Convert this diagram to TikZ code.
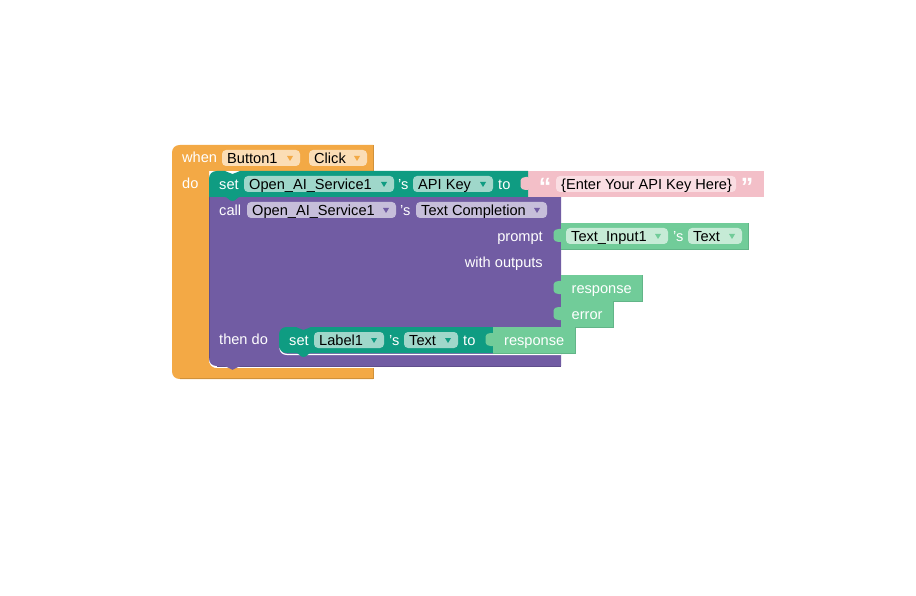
\documentclass[tikz,border=0pt]{standalone}
\usepackage{fontspec}
\setmainfont{Liberation Sans}
\definecolor{ctlorange}{HTML}{F3A945}
\definecolor{ctldark}{HTML}{D0913A}
\definecolor{ctlfield}{HTML}{FBDDB5}
\definecolor{ctlmark}{HTML}{F3A945}
\definecolor{setteal}{HTML}{0F9C82}
\definecolor{setdark}{HTML}{0B7D68}
\definecolor{setfield}{HTML}{9FD7CA}
\definecolor{callpurple}{HTML}{715CA3}
\definecolor{calldark}{HTML}{5F4E8C}
\definecolor{callfield}{HTML}{C6BEDA}
\definecolor{valgreen}{HTML}{71CC99}
\definecolor{valdark}{HTML}{62B588}
\definecolor{valfield}{HTML}{C6EBD6}
\definecolor{strpink}{HTML}{F3BFC8}
\definecolor{strfield}{HTML}{FADEE3}
\tikzset{
  x=1pt,y=-1pt,
  whitelabel/.style={anchor=base west,inner sep=0pt,text=white,font=\fontsize{14.6}{16}\selectfont},
  whiteright/.style={whitelabel,anchor=base east},
  fieldlabel/.style={anchor=base west,inner sep=0pt,text=black,font=\fontsize{14.6}{16}\selectfont},
  fieldbox/.style={rounded corners=4pt},
  quotemark/.style={text=white,inner sep=0pt,font=\fontsize{25}{25}\selectfont\bfseries,anchor=base},
  blockedge/.style={line width=0.7pt},
}
% #1 name, #2 left, #3 right, #4 mid y, #5 text, #6 fill, #7 mark
\newcommand{\dropfield}[7]{
  \fill[fieldbox,#6] (#2,#4-8) rectangle (#3,#4+8);
  \node[fieldlabel] (#1) at (#2+5,#4+5.4) {#5};
  \fill[#7] (#3-13,#4-2) -- (#3-7,#4-2) -- (#3-10,#4+3) -- cycle;
}
% #1 left, #2 top, #3 colour
\newcommand{\lefttab}[3]{
  \fill[#3,rounded corners=1.5pt] (#1+1,#2+6) -- (#1-4,#2+6) -- (#1-7.5,#2+8) -- (#1-7.5,#2+17) -- (#1-4,#2+19) -- (#1+1,#2+19) -- cycle;
}
% #1 left, #2 right, #3 top, #4 colour, #5 edge
\newcommand{\valblock}[5]{
  \lefttab{#1}{#3}{#4}
  \fill[#4] (#1,#3) rectangle (#2,#3+26);
  \draw[blockedge,#5] (#1,#3+26) -- (#2,#3+26) -- (#2,#3);
}
\begin{document}
\begin{tikzpicture}
\useasboundingbox (0,0) rectangle (916,596);
\fill[white] (0,0) rectangle (916,596);

\fill[ctlorange] (172,153) .. controls (172,148) and (175,145) .. (180,145) -- (373,145) -- (373,171) -- (209,171) -- (209,360) .. controls (209,365) and (212,368) .. (217,368) -- (373,368) -- (373,379) -- (180,379) .. controls (175,379) and (172,376) .. (172,371) -- cycle;
\draw[blockedge,ctldark] (373,145) -- (373,171);
\draw[blockedge,ctldark] (180,378.6) -- (373,378.6) -- (373,368);

\draw[white,line width=1.6pt] (209.8,358) .. controls (209.8,364) and (212,367) .. (218,367) -- (373,367);
\fill[callpurple] (209,197) -- (561,197) -- (561,366) -- (217,366) .. controls (212,366) and (209,363) .. (209,358) -- cycle;
\draw[blockedge,calldark] (217,366) -- (561,366);
\draw[blockedge,calldark] (209.4,197) -- (209.4,358);
\fill[callpurple] (225,366) .. controls (228,366) and (229,369.8) .. (232.5,369.8) .. controls (236,369.8) and (237,366) .. (240,366) -- cycle;

\fill[strpink] (528,171) rectangle (764,197);
\fill[setteal] (209,179) .. controls (209,174) and (212,171) .. (217,171) -- (225,171) .. controls (228,171) and (229,174) .. (232.5,174) .. controls (236,174) and (237,171) .. (240,171) -- (528,171) -- (528,197) -- (240,197) .. controls (237,197) and (236,201) .. (232.5,201) .. controls (229,201) and (228,197) .. (225,197) -- (209,197) -- cycle;
\lefttab{528}{171}{strpink}

\valblock{561}{748}{223}{valgreen}{valdark}
\valblock{561}{642}{275}{valgreen}{valdark}
\valblock{561}{613}{301}{valgreen}{valdark}

\draw[white,line width=1.2pt] (280,348) .. controls (280,352) and (283,354.4) .. (287,354.4) -- (561,354.4);
\fill[setteal] (279,335) .. controls (279,330) and (282,327) .. (287,327) -- (296,327) .. controls (299,327) and (300,330) .. (303.5,330) .. controls (307,330) and (308,327) .. (311,327) -- (493,327) -- (493,353) -- (311,353) .. controls (308,353) and (307,357) .. (303.5,357) .. controls (300,357) and (299,353) .. (296,353) -- (287,353) .. controls (282,353) and (279,350) .. (279,345) -- cycle;
\valblock{493}{575}{327}{valgreen}{valdark}

\node[whitelabel] (when) at (182,163) {when};
\node[whitelabel] (do) at (182,188.5) {do};
\dropfield{button}{222}{300}{158}{Button1}{ctlfield}{ctlmark}
\dropfield{click}{309}{367}{158}{Click}{ctlfield}{ctlmark}

\node[whitelabel] (setkey) at (219,189.5) {set};
\dropfield{service}{244}{394}{184}{Open\_AI\_Service1}{setfield}{setteal}
\node[whitelabel] (skey) at (398,189.5) {'s};
\dropfield{apikey}{413}{493}{184}{API Key}{setfield}{setteal}
\node[whitelabel] (tokey) at (498,189.5) {to};
\node[quotemark] (openq) at (545,196) {“};
\fill[fieldbox,strfield] (556,176) rectangle (736,192);
\node[fieldlabel] (apitext) at (561,189.4) {\{Enter Your API Key Here\}};
\node[quotemark] (closeq) at (747,196) {”};

\node[whitelabel] (call) at (219,215.5) {call};
\dropfield{callservice}{247}{396}{210}{Open\_AI\_Service1}{callfield}{callpurple}
\node[whitelabel] (scall) at (400,215.5) {'s};
\dropfield{completion}{416}{547}{210}{Text Completion}{callfield}{callpurple}
\node[whiteright] (prompt) at (543,241.5) {prompt};
\node[whiteright] (outputs) at (543,267.5) {with outputs};
\node[whitelabel] (thendo) at (219,344) {then do};

\dropfield{input}{566}{668}{236}{Text\_Input1}{valfield}{valgreen}
\node[whitelabel] (sinput) at (673,241.5) {'s};
\dropfield{inputtext}{688}{742}{236}{Text}{valfield}{valgreen}
\node[whitelabel] (resp) at (571.5,293.5) {response};
\node[whitelabel] (err) at (571.5,319.5) {error};

\node[whitelabel] (setlabel) at (289,345.5) {set};
\dropfield{label}{314}{384}{340}{Label1}{setfield}{setteal}
\node[whitelabel] (slabel) at (389,345.5) {'s};
\dropfield{labeltext}{404}{458}{340}{Text}{setfield}{setteal}
\node[whitelabel] (tolabel) at (463,345.5) {to};
\node[whitelabel] (respval) at (504,345.5) {response};
\end{tikzpicture}
\end{document}
